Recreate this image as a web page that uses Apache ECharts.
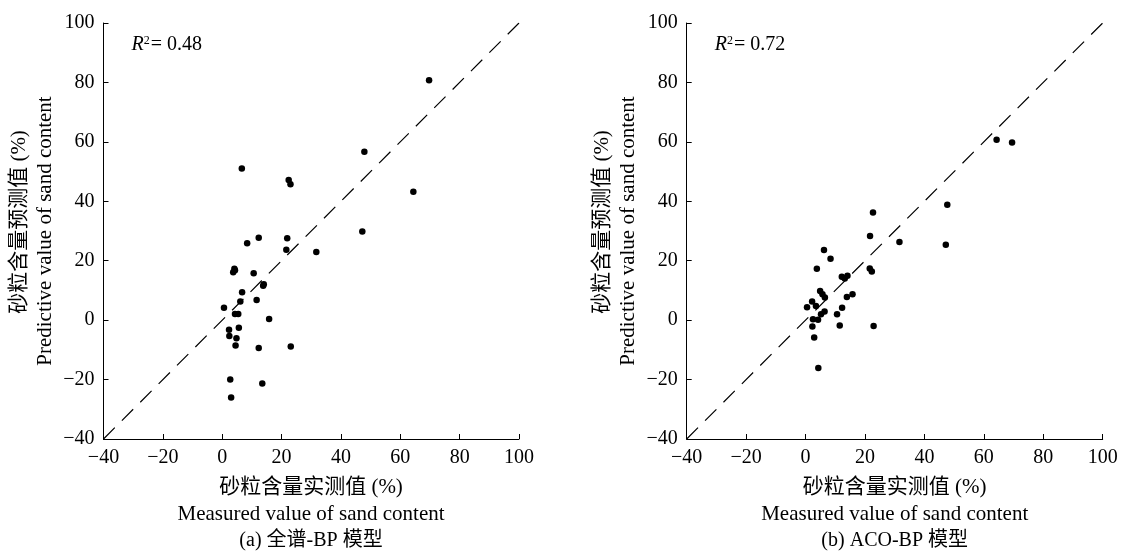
<!DOCTYPE html>
<html>
<head>
<meta charset="utf-8">
<script src="https://cdn.jsdelivr.net/npm/echarts@6/dist/echarts.min.js"></script>
<style>
  html, body { margin: 0; padding: 0; background: #fff; }
  #chart { width: 1123px; height: 552px; }
</style>
</head>
<body>
<div id="chart"></div>
<script>
// (a) full spectrum BP model: [measured, predicted]
var fullBP = [
  [69.7, 80.7], [47.9, 56.7], [6.6, 51.0], [22.4, 47.2], [23.0, 45.7],
  [64.4, 43.2], [47.2, 29.8], [12.3, 27.7], [21.9, 27.6], [8.4, 25.9],
  [21.6, 23.7], [31.7, 22.9], [4.1, 17.3], [3.7, 16.1], [4.3, 16.8],
  [10.6, 15.8], [14.0, 12.1], [13.8, 11.6], [6.7, 9.4], [11.6, 6.8],
  [6.1, 6.3], [0.6, 4.2], [4.3, 2.1], [5.4, 2.1], [15.8, 0.4],
  [5.6, -2.6], [2.3, -3.2], [2.4, -5.3], [4.8, -6.1], [4.5, -8.5],
  [12.3, -9.4], [23.1, -8.9], [2.7, -20.0], [13.5, -21.3], [3.0, -26.0]
];
// (b) ACO-BP model: [measured, predicted]
var acoBP = [
  [64.3, 60.7], [69.5, 59.8], [47.7, 38.8], [22.7, 36.2], [21.7, 28.3],
  [31.6, 26.3], [47.2, 25.4], [6.2, 23.6], [8.4, 20.7], [3.8, 17.3],
  [21.6, 17.4], [22.3, 16.4], [12.2, 14.6], [14.1, 14.9], [13.2, 14.0],
  [4.9, 9.8], [5.7, 8.7], [6.5, 7.6], [15.8, 8.7], [13.9, 7.8],
  [2.2, 6.3], [0.5, 4.3], [3.5, 4.8], [12.3, 4.2], [6.4, 2.9],
  [5.2, 2.0], [10.6, 2.0], [4.2, 0.1], [2.5, 0.3], [2.3, -2.1],
  [11.5, -1.8], [22.9, -2.0], [2.9, -5.8], [4.3, -16.1]
];
var oneToOne = [[-40, -40], [100, 100]];
var axisMin = -40, axisMax = 100, axisStep = 20;
var r2Values = ['0.48', '0.72'];
var panelTitles = ['(a) 全谱-BP 模型', '(b) ACO-BP 模型'];

var serif = '"Liberation Serif", "Noto Sans CJK SC", serif';

function minus(v) {
  return String(v).replace('-', '\u2212');
}

function makeAxis(idx, isX) {
  return {
    type: 'value',
    gridIndex: idx,
    min: axisMin,
    max: axisMax,
    interval: axisStep,
    axisLine: { show: true, onZero: false, lineStyle: { color: '#000', width: 1 } },
    axisTick: { show: true, inside: true, length: 5, lineStyle: { color: '#000' } },
    splitLine: { show: false },
    axisLabel: {
      color: '#000',
      fontFamily: serif,
      fontSize: 20,
      margin: 9,
      formatter: minus
    }
  };
}

var chart = echarts.init(document.getElementById('chart'));

var grids = [
  { left: 103.5, right: 604, top: 23, bottom: 113 },
  { left: 686.7, right: 20.3, top: 23, bottom: 113 }
];

var series = [];
[fullBP, acoBP].forEach(function (d, i) {
  series.push({
    type: 'line',
    xAxisIndex: i,
    yAxisIndex: i,
    data: oneToOne,
    symbol: 'none',
    silent: true,
    lineStyle: { color: '#000', width: 1.2, type: [16, 10] }
  });
  series.push({
    type: 'scatter',
    xAxisIndex: i,
    yAxisIndex: i,
    data: d,
    symbol: 'circle',
    symbolSize: 6.5,
    itemStyle: { color: '#000', opacity: 1 }
  });
});

var textX = [311, 894.7];
var yNameX = [[19, 45], [602, 628]];
var graphics = [];
for (var i = 0; i < 2; i++) {
  graphics.push({
    type: 'text',
    left: grids[i].left + 28,
    top: 35,
    style: {
      rich: {
        r: { fontFamily: serif, fontStyle: 'italic', fontSize: 20, fill: '#000' },
        s: { fontFamily: serif, fontSize: 12, fill: '#000', verticalAlign: 'top', padding: [0, 1, 8, 0] },
        n: { fontFamily: serif, fontSize: 20, fill: '#000' }
      },
      text: '{r|R}{s|2}{n|= ' + r2Values[i] + '}'
    }
  });
  graphics.push({
    type: 'text',
    x: textX[i], y: 487,
    style: { text: '砂粒含量实测值 (%)', fontFamily: serif, fontSize: 21, fill: '#000', align: 'center', verticalAlign: 'middle' }
  });
  graphics.push({
    type: 'text',
    x: textX[i], y: 514,
    style: { text: 'Measured value of sand content', fontFamily: serif, fontSize: 21, fill: '#000', align: 'center', verticalAlign: 'middle' }
  });
  graphics.push({
    type: 'text',
    x: textX[i], y: 541,
    style: { text: panelTitles[i], fontFamily: serif, fontSize: 20, fill: '#000', align: 'center', verticalAlign: 'middle' }
  });
  graphics.push({
    type: 'text',
    x: yNameX[i][0], y: 222,
    rotation: Math.PI / 2,
    style: { text: '砂粒含量预测值 (%)', fontFamily: serif, fontSize: 21, fill: '#000', align: 'center', verticalAlign: 'middle' }
  });
  graphics.push({
    type: 'text',
    x: yNameX[i][1], y: 231,
    rotation: Math.PI / 2,
    style: { text: 'Predictive value of sand content', fontFamily: serif, fontSize: 21, fill: '#000', align: 'center', verticalAlign: 'middle' }
  });
}

var option = {
  backgroundColor: '#fff',
  animation: false,
  grid: grids,
  xAxis: [makeAxis(0, true), makeAxis(1, true)],
  yAxis: [makeAxis(0, false), makeAxis(1, false)],
  series: series,
  graphic: graphics
};

chart.setOption(option);
</script>
</body>
</html>
